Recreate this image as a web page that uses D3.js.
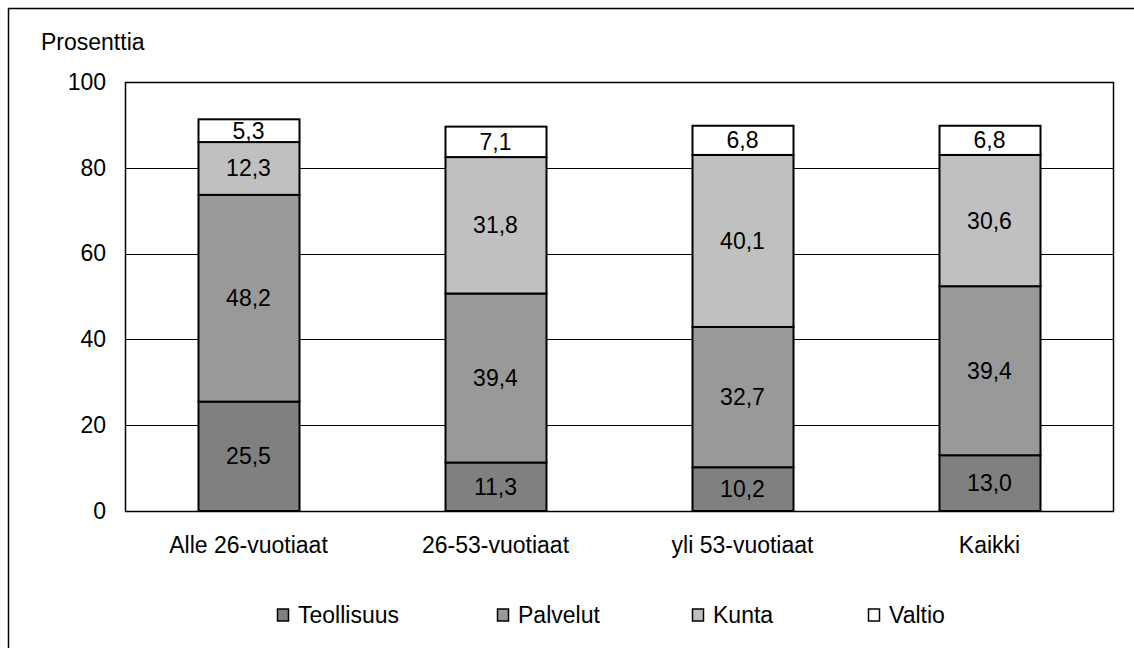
<!DOCTYPE html>
<html>
<head>
<meta charset="utf-8">
<script src="https://cdn.jsdelivr.net/npm/d3@7"></script>
<style>
  body { margin: 0; background: #fff; }
  svg text { font-family: "Liberation Sans", Arial, sans-serif; fill: #000; }
</style>
</head>
<body>
<svg id="chart" width="1134" height="648"></svg>
<script>
var width = 1134;
var height = 648;

// data
var categories = ["Alle 26-vuotiaat", "26-53-vuotiaat", "yli 53-vuotiaat", "Kaikki"];
var seriesNames = ["Teollisuus", "Palvelut", "Kunta", "Valtio"];
var teollisuus = [25.5, 11.3, 10.2, 13.0];
var palvelut = [48.2, 39.4, 32.7, 39.4];
var kunta = [12.3, 31.8, 40.1, 30.6];
var valtio = [5.3, 7.1, 6.8, 6.8];
var yTicks = [0, 20, 40, 60, 80, 100];

var colors = ["#808080", "#999999", "#c0c0c0", "#ffffff"];
var fontSize = "23px";

// table for d3.stack
var table = categories.map(function(c, i) {
  return { cat: c, Teollisuus: teollisuus[i], Palvelut: palvelut[i], Kunta: kunta[i], Valtio: valtio[i] };
});
var stacked = d3.stack().keys(seriesNames)(table);

var margin = { left: 125, right: 21, top: 82, bottom: 137 };

var svg = d3.select("#chart");

// outer frame (cut off at right and bottom like the original)
svg.append("rect")
  .attr("x", 8.5).attr("y", 8.5)
  .attr("width", 1140).attr("height", 660)
  .attr("fill", "none").attr("stroke", "#000").attr("stroke-width", 1.5);

var x = d3.scaleBand()
  .domain(categories)
  .range([margin.left, width - margin.right])
  .paddingInner(0.59)
  .paddingOuter(0.295);

var y = d3.scaleLinear()
  .domain([0, 100])
  .range([height - margin.bottom, margin.top]);

// gridlines
svg.append("g")
  .selectAll("line")
  .data(yTicks.slice(1, -1))
  .enter().append("line")
  .attr("x1", margin.left).attr("x2", width - margin.right)
  .attr("y1", function(d) { return Math.round(y(d)) + 0.5; })
  .attr("y2", function(d) { return Math.round(y(d)) + 0.5; })
  .attr("stroke", "#000").attr("stroke-width", 1);

// y axis labels
var yAxis = d3.axisLeft(y).tickValues(yTicks).tickSize(0).tickPadding(19);
svg.append("g")
  .attr("transform", "translate(" + margin.left + ",0)")
  .call(yAxis)
  .call(function(g) { g.select(".domain").remove(); })
  .selectAll("text")
  .style("font-size", fontSize);

// bars
var layers = svg.append("g")
  .selectAll("g")
  .data(stacked)
  .enter().append("g")
  .attr("fill", function(d, i) { return colors[i]; });

layers.selectAll("rect")
  .data(function(d) { return d; })
  .enter().append("rect")
  .attr("x", function(d) { return Math.round(x(d.data.cat)) + 0.5; })
  .attr("y", function(d) { return y(d[1]); })
  .attr("width", Math.round(x.bandwidth()))
  .attr("height", function(d) { return y(d[0]) - y(d[1]); })
  .attr("stroke", "#000").attr("stroke-width", 2);

// value labels
layers.selectAll("text")
  .data(function(d) { return d.map(function(p) { return { p: p, key: d.key }; }); })
  .enter().append("text")
  .attr("x", function(d) { return x(d.p.data.cat) + x.bandwidth() / 2; })
  .attr("y", function(d) { return (y(d.p[0]) + y(d.p[1])) / 2; })
  .attr("dy", "0.35em")
  .attr("text-anchor", "middle")
  .style("font-size", fontSize)
  .text(function(d) { return d3.format(".1f")(d.p.data[d.key]).replace(".", ","); });

// plot area border
svg.append("rect")
  .attr("x", margin.left + 0.5).attr("y", margin.top + 0.5)
  .attr("width", width - margin.right - margin.left)
  .attr("height", height - margin.bottom - margin.top)
  .attr("fill", "none").attr("stroke", "#000").attr("stroke-width", 1.5);

// x axis labels
var xAxis = d3.axisBottom(x).tickSize(0).tickPadding(26);
svg.append("g")
  .attr("transform", "translate(0," + (height - margin.bottom) + ")")
  .call(xAxis)
  .call(function(g) { g.select(".domain").remove(); })
  .selectAll("text")
  .style("font-size", fontSize);

// y title
svg.append("text")
  .attr("x", 41).attr("y", 50)
  .style("font-size", fontSize)
  .text("Prosenttia");

// legend
var legendX = [277, 497, 692, 868];
var legend = svg.append("g")
  .selectAll("g")
  .data(seriesNames)
  .enter().append("g")
  .attr("transform", function(d, i) { return "translate(" + legendX[i] + ",615)"; });

legend.append("rect")
  .attr("x", 0.5).attr("y", -6)
  .attr("width", 11).attr("height", 12)
  .attr("fill", function(d, i) { return colors[i]; })
  .attr("stroke", "#000").attr("stroke-width", 1.5);

legend.append("text")
  .attr("x", 21)
  .attr("dy", "0.36em")
  .style("font-size", fontSize)
  .text(function(d) { return d; });
</script>
</body>
</html>
